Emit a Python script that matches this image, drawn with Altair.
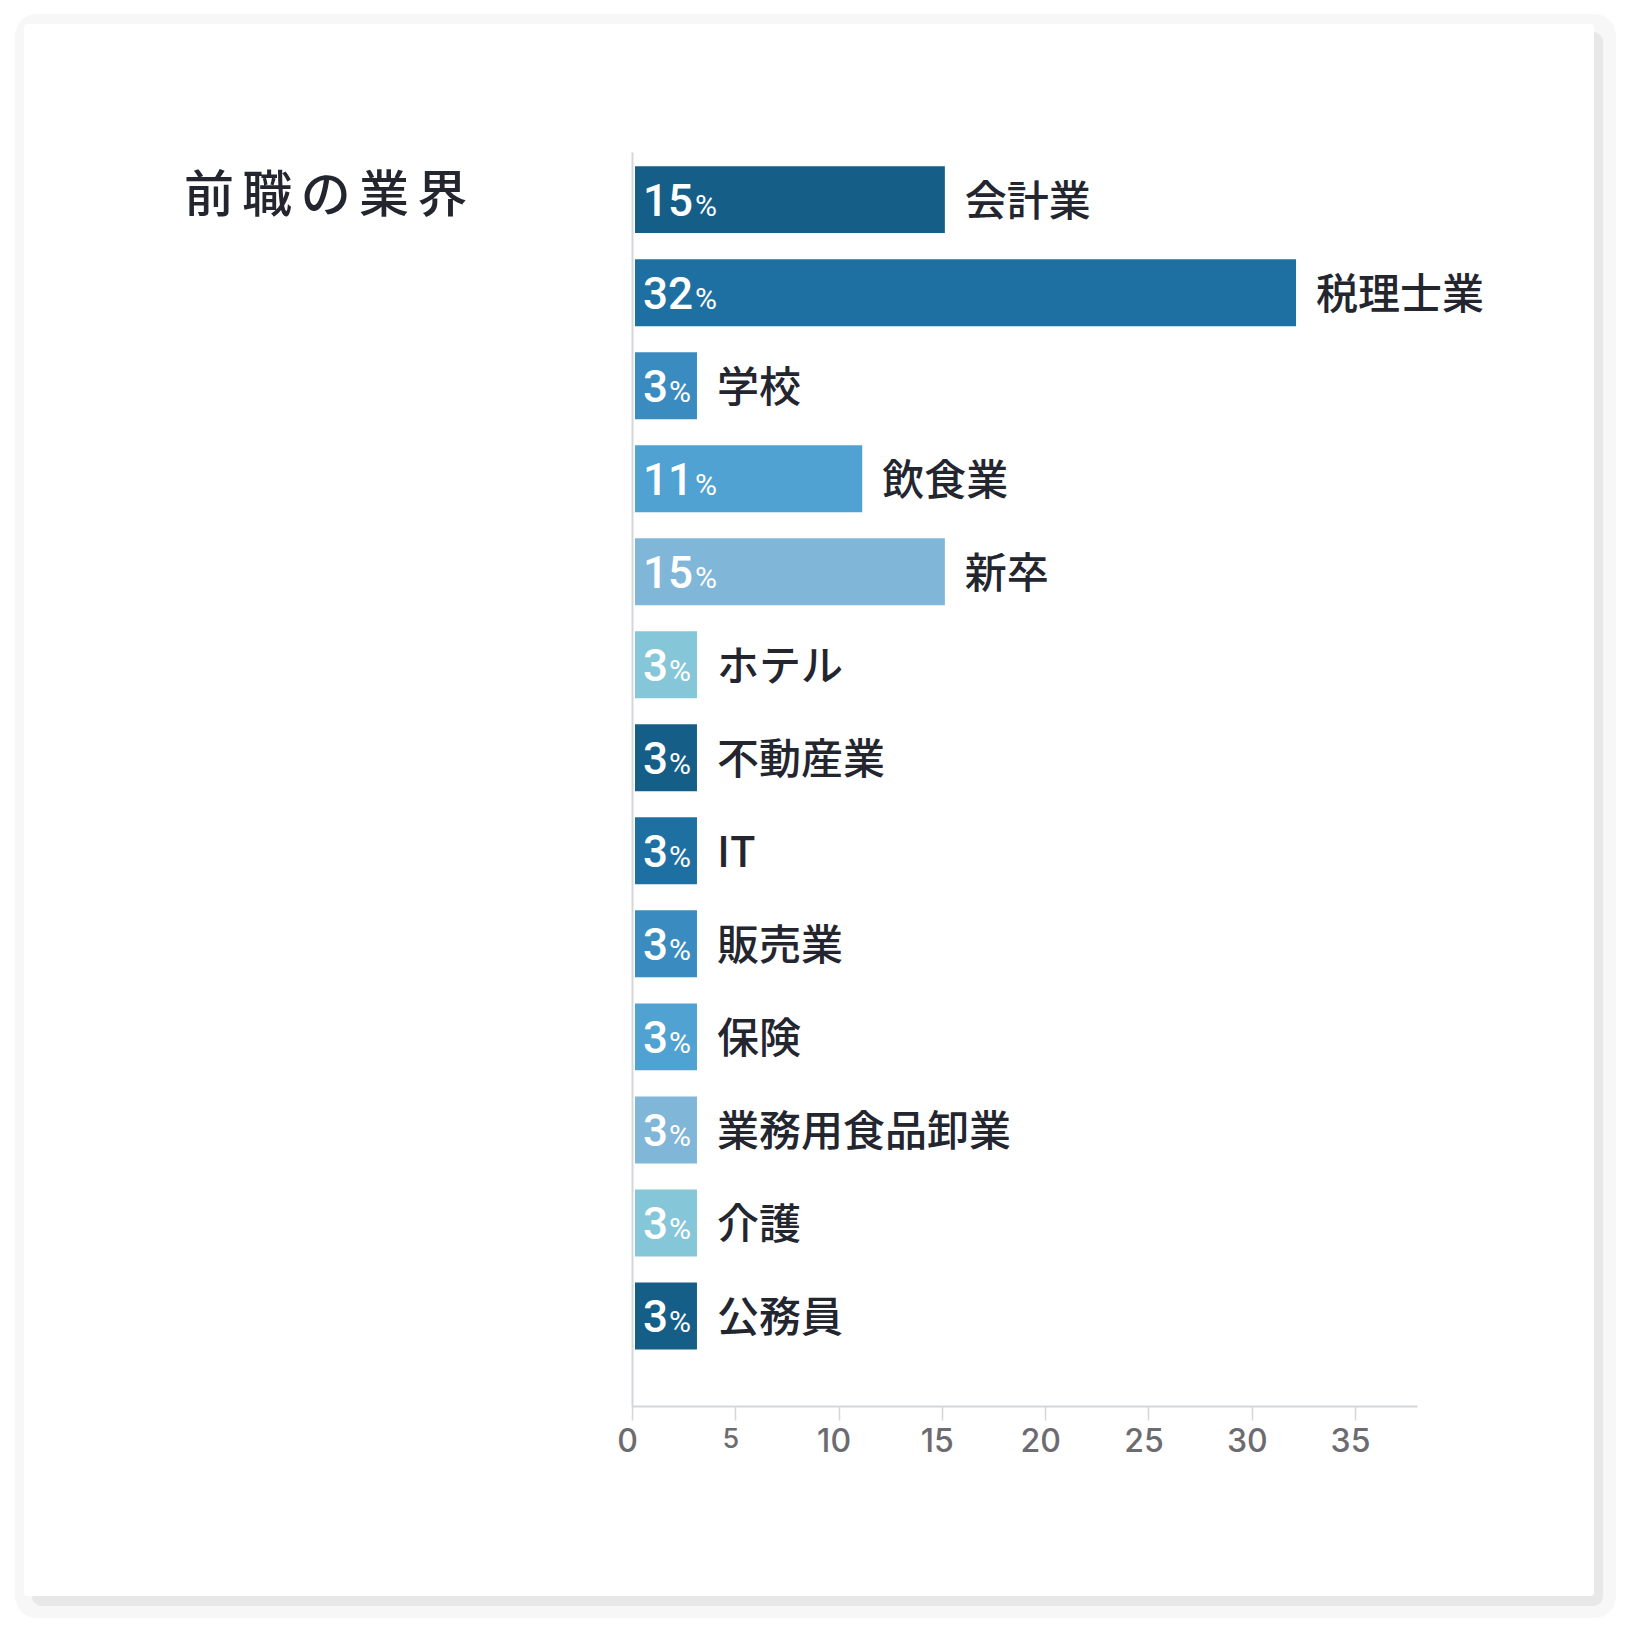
import altair as alt
import pandas as pd

# ---- data ----
title_text = "前職の業界"
categories = ["会計業", "税理士業", "学校", "飲食業", "新卒", "ホテル", "不動産業",
              "IT", "販売業", "保険", "業務用食品卸業", "介護", "公務員"]
values = [15, 32, 3, 11, 15, 3, 3, 3, 3, 3, 3, 3, 3]
x_ticks = [0, 5, 10, 15, 20, 25, 30, 35]
palette = ["#145e88", "#1f70a2", "#3a8cc0", "#50a2d2", "#80b6d8", "#85c7d9"]

df = pd.DataFrame({"industry": categories, "pct": values})
df["num"] = df["pct"].astype(str)

W, H = 785, 1254
TXT = "#23262f"
AX = "#d3d7dc"

y_enc = alt.Y(
    "industry:N", sort=categories,
    scale=alt.Scale(domain=categories, paddingInner=0.28, paddingOuter=0.38, align=0.2),
    axis=alt.Axis(labels=False, ticks=False, title=None, grid=False,
                  domainColor=AX, domainWidth=2, zindex=1),
)
x_enc = alt.X(
    "pct:Q",
    scale=alt.Scale(domain=[0, 38], nice=False, zero=True),
    axis=alt.Axis(values=x_ticks, title=None, grid=False,
                  domainColor=AX, domainWidth=2,
                  tickColor=AX, tickWidth=1.5, tickSize=14,
                  labelFont="Inter",
                  labelFontSize={"condition": {"test": "datum.value == 5", "value": 27}, "value": 32},
                  labelColor="#6b6b70", labelFontWeight=500,
                  labelPadding=6, labelOffset=-5, labelFlush=False, zindex=1),
)
color_enc = alt.Color("industry:N", scale=alt.Scale(domain=categories, range=palette), legend=None)

one = pd.DataFrame({"k": [0]})

# decorative card with soft shadow
shadow_outer = alt.Chart(one).mark_rect(fill="#f7f7f7", cornerRadius=22).encode(
    x=alt.value(-617), x2=alt.value(984), y=alt.value(-138), y2=alt.value(1466))
shadow_inner = alt.Chart(one).mark_rect(fill="#e8e8e8", cornerRadius=10).encode(
    x=alt.value(-600), x2=alt.value(971), y=alt.value(-120), y2=alt.value(1454))
card = alt.Chart(one).mark_rect(fill="#ffffff", cornerRadius=3).encode(
    x=alt.value(-608), x2=alt.value(962), y=alt.value(-128), y2=alt.value(1444))

base = alt.Chart(df)

bars = base.mark_bar(xOffset=3).encode(x=x_enc, y=y_enc, color=color_enc)

nums = base.mark_text(font="Roboto", fontSize=44, fontWeight=500, color="white",
                      align="left", baseline="alphabetic", dx=11, dy=16).encode(
    x=alt.datum(0), y=y_enc, text="num:N")

pct1 = base.transform_filter("datum.pct < 10").mark_text(
    font="Roboto", fontSize=30, fontWeight=400, color="white",
    align="left", baseline="alphabetic", dx=37, dy=16).encode(
    x=alt.datum(0), y=y_enc, text=alt.value("%"))

pct2 = base.transform_filter("datum.pct >= 10").mark_text(
    font="Roboto", fontSize=30, fontWeight=400, color="white",
    align="left", baseline="alphabetic", dx=63, dy=16).encode(
    x=alt.datum(0), y=y_enc, text=alt.value("%"))

labels = base.mark_text(font="Noto Sans CJK JP", fontSize=42, fontWeight=500, color=TXT,
                        align="left", baseline="middle", dx=23, dy=3).encode(
    x=x_enc, y=y_enc, text="industry:N")

spaced_title = "\u2006".join(list(title_text))
title = alt.Chart(pd.DataFrame({"t": [spaced_title]})).mark_text(
    font="Noto Sans CJK JP", fontSize=50, fontWeight=500, color=TXT,
    align="left", baseline="middle").encode(
    x=alt.value(-448), y=alt.value(45), text="t:N")

chart = alt.layer(shadow_outer, shadow_inner, card, bars, nums, pct1, pct2, labels, title).properties(
    width=W, height=H,
    padding={"left": 624, "top": 144, "right": 203, "bottom": 214},
    autosize=alt.AutoSizeParams(type="none"),
    background="#ffffff",
).configure_view(stroke=None)

chart.save("out.html", embed_options={"renderer": "svg", "actions": False})
